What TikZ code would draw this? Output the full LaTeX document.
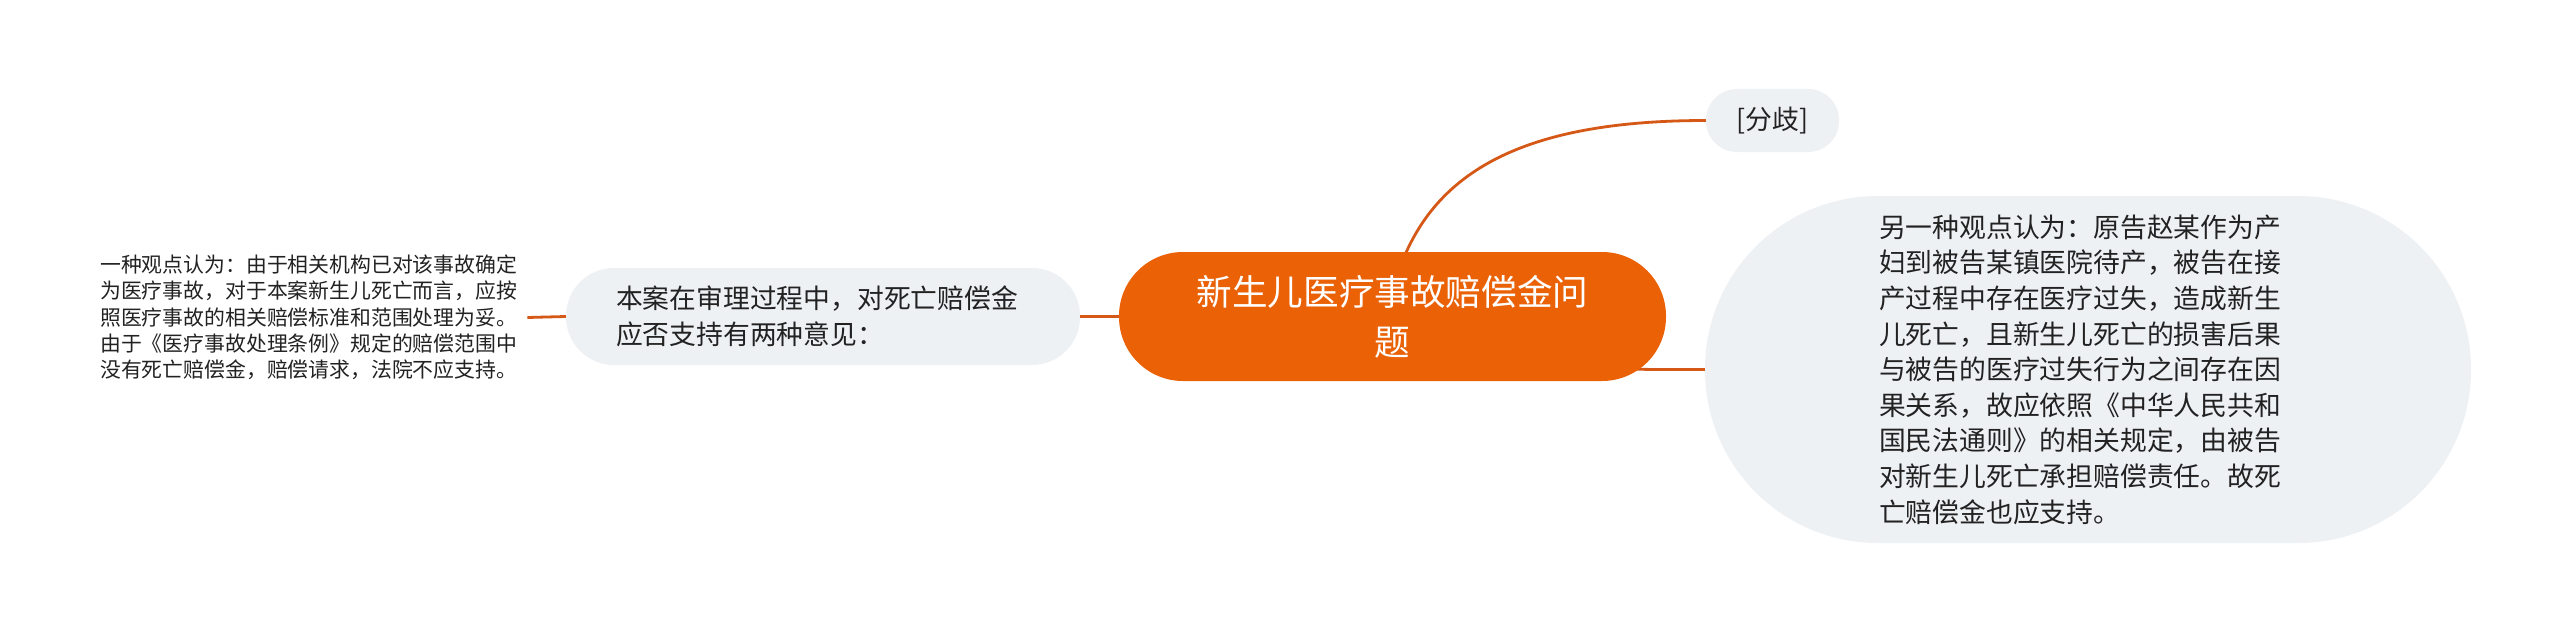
\documentclass[tikz,border=0pt]{standalone}
\usepackage{fontspec}
\setmainfont{Noto Sans CJK SC}
\definecolor{rootorange}{RGB}{234,97,6}
\definecolor{lineorange}{RGB}{214,88,22}
\definecolor{pillgray}{RGB}{238,241,244}
\definecolor{txt}{RGB}{34,34,34}
\begin{document}
\begin{tikzpicture}[x=1pt,y=-1pt,
  conn/.style={draw=lineorange,line width=2.8pt},
  rootbox/.style={fill=rootorange,draw=none,rounded corners=64pt,minimum width=547pt,minimum height=129pt,text=white,align=center,text width=420pt,inner sep=0pt,font=\fontsize{35.6}{50}\selectfont},
  pill/.style={fill=pillgray,draw=none,inner sep=0pt,text=txt,align=left,font=\fontsize{26.8}{35.6}\selectfont},
  plaintext/.style={draw=none,inner xsep=10pt,inner ysep=0pt,text=txt,align=left,font=\fontsize{20.85}{26.3}\selectfont}]
\useasboundingbox[fill=white] (0,0) rectangle (2560,634);

% connectors drawn first (behind nodes)
\coordinate (rootc) at (1392.5,316.5);
\node[pill,rounded corners=173pt,minimum width=766pt,minimum height=347pt,text width=418pt] (rightn) at (2088,369.5) {另一种观点认为：原告赵某作为产\\妇到被告某镇医院待产，被告在接\\产过程中存在医疗过失，造成新生\\儿死亡，且新生儿死亡的损害后果\\与被告的医疗过失行为之间存在因\\果关系，故应依照《中华人民共和\\国民法通则》的相关规定，由被告\\对新生儿死亡承担赔偿责任。故死\\亡赔偿金也应支持。};
\node[pill,rounded corners=31pt,minimum width=133pt,minimum height=63pt,align=center] (fenqi) at (1772.5,120.5) {[分歧]};
\node[pill,rounded corners=48pt,minimum width=514pt,minimum height=97pt,text width=414pt] (mid) at (823,316.5) {本案在审理过程中，对死亡赔偿金\\应否支持有两种意见：};
\node[plaintext,anchor=west] (leftn) at (90,317.5) {一种观点认为：由于相关机构已对该事故确定\\为医疗事故，对于本案新生儿死亡而言，应按\\照医疗事故的相关赔偿标准和范围处理为妥。\\由于《医疗事故处理条例》规定的赔偿范围中\\没有死亡赔偿金，赔偿请求，法院不应支持。};

\draw[conn] (rootc) .. controls (1500,370) and (1600,370) .. (rightn.west);
\draw[conn] ([xshift=10pt,yshift=-8pt]rootc |- 0,253) .. controls +(37,-93) and +(-176,0) .. (fenqi.west);
\draw[conn] (rootc) -- (mid.east);
\draw[conn] (mid.west) -- (leftn.east);

\node[rootbox] (root) at (rootc) {新生儿医疗事故赔偿金问\\题};
\end{tikzpicture}
\end{document}
